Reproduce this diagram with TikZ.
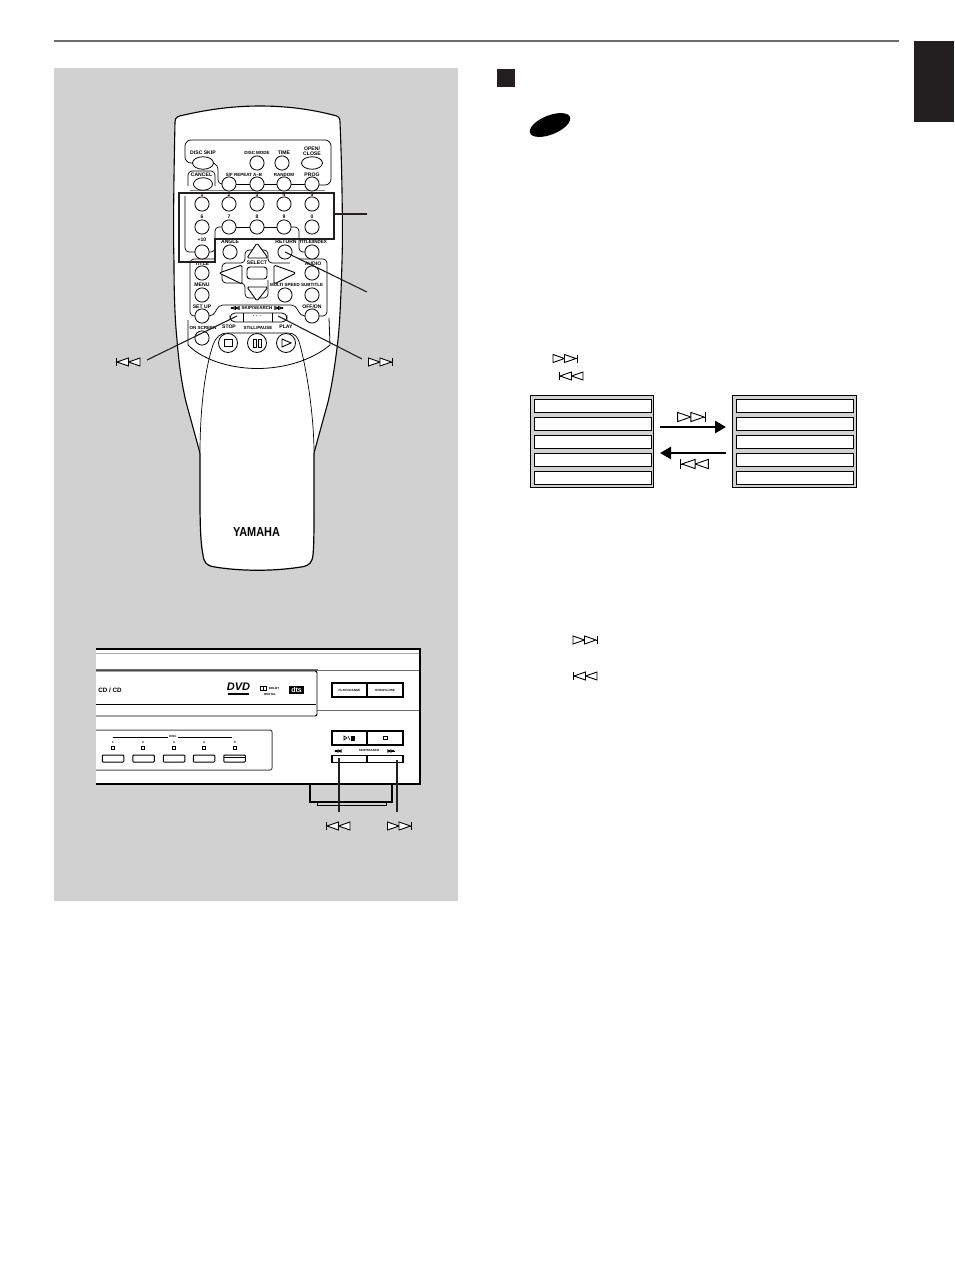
\documentclass[tikz,border=0pt]{standalone}
\usepackage{fontspec}
\setmainfont{Liberation Sans}
\usetikzlibrary{shapes.geometric,arrows.meta}
\definecolor{panelgray}{HTML}{D1D1D1}
\definecolor{inkdark}{HTML}{231F20}
\definecolor{headgray}{HTML}{6B6B6B}
\tikzset{
  x=1pt,y=-1pt,
  lbl/.style={font=\fontsize{5.1}{5.1}\selectfont\bfseries,inner sep=0pt,text=black},
  lblsm/.style={font=\fontsize{4.5}{4.5}\selectfont\bfseries,inner sep=0pt,text=black},
  tiny/.style={font=\fontsize{3}{3}\selectfont\bfseries,inner sep=0pt,text=black},
  circbtn/.style={draw=black,fill=white,circle,line width=.8pt,minimum size=14.2pt,inner sep=0pt},
  ovalbtn/.style={draw=black,fill=white,ellipse,line width=.8pt,minimum width=21pt,minimum height=12.5pt,inner sep=0pt},
  bigbtn/.style={draw=black,fill=white,circle,line width=.8pt,minimum size=19pt,inner sep=0pt},
  outl/.style={line width=.7pt,draw=black,rounded corners=4pt},
  body/.style={line width=1.1pt,draw=black,fill=white},
  leader/.style={line width=1.1pt,draw=inkdark},
  navtri/.style={line width=.9pt,fill=white,line join=round,rounded corners=1.5pt},
  rowbox/.style={draw=black,fill=white,line width=.8pt,minimum width=117pt,minimum height=13.6pt,inner sep=0pt},
  listbox/.style={draw=black,fill=panelgray,line width=.8pt,minimum width=123pt,minimum height=92.5pt,inner sep=0pt},
  bigarrow/.style={line width=2.8pt,-{Triangle[length=11pt,width=12pt]}},
  fbtn/.style={draw=black,fill=white,line width=1pt,rounded corners=.8pt,minimum height=7pt,minimum width=21.5pt,inner sep=0pt},
  led/.style={draw=black,fill=white,line width=.7pt,minimum size=3pt,inner sep=0pt},
  skipfwd/.pic={
    \draw[line width=.9pt,fill=white] (-12.5,-4)--(-1,0)--(-12.5,4)--cycle;
    \draw[line width=.9pt,fill=white] (-1,-4)--(10.5,0)--(-1,4)--cycle;
    \draw[line width=1pt] (11.5,-4)--(11.5,4) (10,0)--(11.5,0);
  },
  skipback/.pic={
    \draw[line width=.9pt,fill=white] (12.5,-4)--(1,0)--(12.5,4)--cycle;
    \draw[line width=.9pt,fill=white] (1,-4)--(-10.5,0)--(1,4)--cycle;
    \draw[line width=1pt] (-11.5,-4)--(-11.5,4) (-10,0)--(-11.5,0);
  }
}
\begin{document}
\begin{tikzpicture}
\useasboundingbox (0,0) rectangle (954,1272);
% page furniture
\fill[white] (0,0) rectangle (954,1272);
\fill[panelgray] (54,68) rectangle (458,901);
\draw[line width=1.8pt,draw=headgray] (54,41) -- (899,41);
\fill[inkdark] (914,41) rectangle (954,122);
\node[fill=inkdark,minimum size=18pt,inner sep=0pt] (sq) at (506,77.5) {};
\node[fill=black,ellipse,minimum width=43pt,minimum height=19pt,inner sep=0pt,rotate=22] (oval) at (550,125) {};

% remote body
\path[body] (175,122) .. controls (175,117) and (178,116) .. (184,115)
  .. controls (210,109) and (235,106) .. (260,106)
  .. controls (285,106) and (310,109) .. (333,115)
  .. controls (339,116) and (340,118) .. (340,122)
  .. controls (342,170) and (343,230) .. (342,262)
  .. controls (341,295) and (340,320) .. (338,340)
  .. controls (335,365) and (332,385) .. (328,402)
  -- (314,453) -- (200,453) -- (186,402)
  .. controls (182,385) and (179,365) .. (177,340)
  .. controls (175,320) and (174,295) .. (174,262)
  .. controls (173,230) and (174,170) .. (175,122) -- cycle;
% lid
\fill[white] (200,453) .. controls (200,420) and (203,375) .. (213,345)
  .. controls (216,337) and (220,333) .. (228,333) -- (288,333)
  .. controls (295,333) and (298,337) .. (300,345)
  .. controls (308,375) and (314,420) .. (314,453)
  -- (314,500) .. controls (314,530) and (314,545) .. (313,555)
  .. controls (312,563) and (309,565) .. (304,566.5)
  .. controls (275,571.5) and (240,571.5) .. (212,566.5)
  .. controls (207,565) and (204,563) .. (203,555)
  .. controls (201,545) and (200,530) .. (200,500) -- cycle;
\draw[line width=.7pt] (200,453) .. controls (200,420) and (203,375) .. (213,345)
  .. controls (216,337) and (220,333) .. (228,333) -- (288,333)
  .. controls (295,333) and (298,337) .. (300,345)
  .. controls (308,375) and (314,420) .. (314,453);
\draw[line width=1.2pt] (200,453) -- (200,500) .. controls (200,530) and (201,545) .. (203,555)
  .. controls (204,563) and (207,565) .. (212,566.5)
  .. controls (240,571.5) and (275,571.5) .. (304,566.5)
  .. controls (309,565) and (312,563) .. (313,555)
  .. controls (314,545) and (314,530) .. (314,500) -- (314,453);
\node[inner sep=0pt,font=\fontsize{13}{13}\selectfont\bfseries] (yamaha) at (256.5,532) {\scalebox{.84}[1]{YAMAHA}};

% thin panels on the remote
\draw[outl,rounded corners=6pt] (193,163) -- (185,163) -- (185,140) -- (331,140) -- (331,185) -- (312,185);
\draw[outl] (213,163) -- (218,165) -- (218,184) -- (229,184);
\draw[line width=.7pt] (229,184) -- (312,184);
\draw[outl] (188,186) -- (188,171) -- (215,171) -- (215,186);
\draw[line width=.8pt,draw=gray] (190,190) -- (325,190);
\draw[outl] (202,252) -- (185,252) -- (185,196);
\draw[outl] (202,252) -- (215,252) -- (215,227) -- (229,227);
\draw[line width=.7pt] (229,227) -- (284,227);
\draw[outl] (284,227) -- (299,227) -- (299,252) -- (312,252);
\draw[outl] (202,316) -- (190,316) -- (190,259) -- (215,259);
\draw[outl] (299,259) -- (327,259) -- (327,316) -- (312,316);
\draw[outl,rounded corners=5pt] (202,316) -- (214,316) -- (218,305) -- (296,305) -- (300,316) -- (312,316);
\draw[line width=.8pt] (188,320) -- (188,345) .. controls (205,362) and (235,368.5) .. (257,368.5) .. controls (285,368.5) and (312,360) .. (330,345) -- (329,318);

% nav cluster
\draw[outl] (268,280)--(268,298)--(245,298)--(245,283)--(222,283)--(222,263)--(245,263)--(245,250)--(268,250)--(268,263)--(290,263);
\draw[navtri] (257,243)--(268,258)--(247,258)--cycle;
\draw[navtri] (257,301)--(268,287)--(247,287)--cycle;
\draw[navtri] (219,273)--(242,265)--(242,284)--cycle;
\draw[navtri] (296,273)--(274,265)--(274,284)--cycle;
\draw[line width=.9pt,fill=white,rounded corners=3pt] (247,267) rectangle (267,279);

% buttons
\node[ovalbtn] (bDiscSkip) at (203,163) {};
\node[circbtn] (bDiscMode) at (257,163) {};
\node[circbtn] (bTime) at (282,163) {};
\node[ovalbtn] (bOpen) at (312,163) {};
\node[ovalbtn,minimum width=19pt] (bCancel) at (203,184) {};
\node[circbtn] (bSF) at (229,184) {};
\node[circbtn] (bAB) at (257,184) {};
\node[circbtn] (bRandom) at (284,184) {};
\node[circbtn] (bProg) at (312,184) {};
\node[circbtn] (n1) at (202,204) {};
\node[circbtn] (n2) at (229,204) {};
\node[circbtn] (n3) at (257,204) {};
\node[circbtn] (n4) at (284,204) {};
\node[circbtn] (n5) at (312,204) {};
\node[circbtn] (n6) at (202,227) {};
\node[circbtn] (n7) at (229,227) {};
\node[circbtn] (n8) at (257,227) {};
\node[circbtn] (n9) at (284,227) {};
\node[circbtn] (n0) at (312,227) {};
\node[circbtn] (bTen) at (202,252) {};
\node[circbtn] (bAngle) at (230,252) {};
\node[circbtn] (bReturn) at (285,252) {};
\node[circbtn] (bTitleIdx) at (312,252) {};
\node[circbtn] (bTitle) at (202,273) {};
\node[circbtn] (bAudio) at (312,273) {};
\node[circbtn] (bMenu) at (202,295) {};
\node[circbtn] (bMulti) at (285,295) {};
\node[circbtn] (bSub) at (312,295) {};
\node[circbtn] (bSetup) at (202,316) {};
\node[circbtn] (bOff) at (312,316) {};
\node[circbtn] (bOnScr) at (202,338) {};
\node[bigbtn] (bStop) at (228,343) {};
\node[bigbtn] (bStill) at (257,343) {};
\node[bigbtn] (bPlay) at (286,343) {};
\draw[line width=.9pt,fill=white] (224,339.5) rectangle (232,346.5);
\draw[line width=.9pt,fill=white] (253.5,339) rectangle (256.5,347) (258,339) rectangle (261,347);
\draw[line width=.9pt,fill=white] (282,339)--(291,343)--(282,347)--cycle;
% skip bar
\draw[line width=.8pt,fill=white,rounded corners=5pt] (230,313) rectangle (287,322);
\draw[line width=.8pt] (243,313)--(243,322) (272,313)--(272,322);
\node[lbl] (dots) at (257,316) {. . .};

% remote labels
\node[lbl] (tDiscSkip) at (203,152.5) {DISC SKIP};
\node[lblsm] (tDiscMode) at (257,153) {DISC MODE};
\node[lbl] (tTime) at (284,153) {TIME};
\node[lbl,align=center] (tOpen) at (312,151.5) {OPEN/\\CLOSE};
\node[lbl] (tCancel) at (201.5,174.5) {CANCEL};
\node[lblsm] (tSF) at (244,174.5) {S/F REPEAT A--B};
\node[lblsm] (tRandom) at (284,174.5) {RANDOM};
\node[lbl] (tProg) at (312,174.5) {PROG};
\foreach \t/\x/\y in {1/202/194.5,2/229/194.5,3/257/194.5,4/284/194.5,5/312/194.5,6/202/217,7/229/217,8/257/217,9/284/217,0/312/217}
  \node[lbl] (tn\t) at (\x,\y) {\t};
\node[lbl] (tTen) at (202,240) {+10};
\node[lbl] (tAngle) at (230,242) {ANGLE};
\node[lbl] (tReturn) at (286,242) {RETURN};
\node[lblsm] (tTI) at (313,242) {TITLE/INDEX};
\node[lbl] (tTitle) at (202,264) {TITLE};
\node[lbl] (tSelect) at (257,263) {SELECT};
\node[lbl] (tAudio) at (313,264) {AUDIO};
\node[lbl] (tMenu) at (202,284.5) {MENU};
\node[lblsm] (tMulti) at (285,285) {MULTI SPEED};
\node[lblsm] (tSub) at (312,285) {SUBTITLE};
\node[lbl] (tSetup) at (202,307) {SET UP};
\node[lbl] (tOff) at (312,307) {OFF/ON};
\node[lblsm] (tOnScr) at (203,328) {ON SCREEN};
\node[lblsm] (tSkip) at (257,308) {SKIP/SEARCH};
\pic[scale=.33] (sBackSm) at (235,308) {skipback};
\pic[scale=.33] (sFwdSm) at (279,308) {skipfwd};
\node[lbl] (tStop) at (229,327) {STOP};
\node[lblsm] (tStill) at (258,327.5) {STILL/PAUSE};
\node[lbl] (tPlay) at (286,327) {PLAY};

% highlight frame and leaders
\draw[line width=1.1pt,draw=inkdark] (179,193)--(334,193)--(334,239)--(215,239)--(215,262)--(179,262)--cycle;
\coordinate (frameR) at (334,214);
\coordinate (frameEnd) at (367,214);
\draw[leader] (frameR) -- (frameEnd);
\coordinate (retEnd) at (367,292);
\draw[leader] (bReturn.center) -- (retEnd);
\coordinate (skL) at (237,316);
\coordinate (skLEnd) at (147,360);
\coordinate (skR) at (278,316);
\coordinate (skREnd) at (362,359);
\draw[leader] (skL) -- (skLEnd);
\draw[leader] (skR) -- (skREnd);
\pic (symL) at (127.5,362) {skipback};
\pic (symR) at (381,362) {skipfwd};

% player
\fill[white] (96,649) rectangle (420,784);
\draw[line width=1.6pt] (96,649) -- (420,649) -- (420,784) -- (96,784);
\draw[line width=.8pt,draw=gray!70] (96,653) -- (419,653);
\draw[line width=2.2pt,draw=gray!85!black] (96,670) -- (318,670);
\draw[line width=.9pt,draw=gray!85!black] (318,670) -- (419,670);
\draw[line width=.9pt,draw=gray!85!black] (317,710) -- (419,710);
\draw[line width=.9pt,rounded corners=2pt] (96,671) -- (317,671) -- (317,716) -- (96,716);
\draw[line width=.8pt] (96,704) -- (316,704);
\node[lbl,font=\fontsize{6.3}{6.3}\selectfont\bfseries] (tCD) at (110,690) {CD / CD};
\node[inner sep=0pt,font=\fontsize{11}{11}\selectfont\bfseries\itshape] (tDVD) at (238.5,687) {DVD};
\fill[black] (228,692.5) rectangle (249,695);
\draw[line width=.8pt] (260,686) rectangle (263,690) (263.5,686) rectangle (266.5,690);
\node[tiny] (tDolbyA) at (274,688) {DOLBY};
\node[tiny] (tDolbyB) at (270,694) {DIGITAL};
\node[fill=black,inner sep=0pt,minimum width=15pt,minimum height=8pt,text=white,font=\fontsize{7}{7}\selectfont\bfseries] (tDts) at (296.5,689.5) {dts};
% top right buttons
\node[draw=black,fill=white,line width=1.1pt,minimum width=35pt,minimum height=14pt,inner sep=0pt,tiny] (pChange) at (349.5,690) {PLAY/CHANGE};
\node[draw=black,fill=white,line width=1.1pt,minimum width=36pt,minimum height=14pt,inner sep=0pt,tiny] (pOpen) at (385,690) {OPEN/CLOSE};
% disc panel
\draw[line width=1pt,rounded corners=2pt,draw=gray!60!black] (96,730) -- (272,730) -- (272,770) -- (96,770);
\coordinate (discA) at (113,737);
\coordinate (discB) at (232,737);
\draw[line width=.5pt] (discA) -- (discB);
\node[tiny,fill=white,inner xsep=1pt] (tDisc) at (173,736.5) {DISC};
\foreach \i/\x/\xb in {1/113/113,2/143/143.5,3/174/174,4/204/204,5/235/234.5}{
  \node[tiny] (dn\i) at (\x,742) {\i};
  \node[led] (dl\i) at (\x,747.5) {};
  \node[fbtn] (db\i) at (\xb,758.5) {};
}
\draw[line width=.5pt] (224,757.5) -- (245,757.5);
% play stop
\node[draw=black,fill=white,line width=1.1pt,minimum width=35pt,minimum height=14pt,inner sep=0pt,tiny] (pPlay) at (349.5,738) {};
\node[draw=black,fill=white,line width=1.4pt,minimum width=36pt,minimum height=14pt,inner sep=0pt] (pStop) at (385,738) {};
\draw[line width=.7pt] (383,736.5) rectangle (387,739.5);
\draw[line width=.6pt,fill=white] (344,736)--(347,738)--(344,740)--cycle;
\draw[line width=.5pt] (348,736)--(350,740);
\draw[line width=.7pt] (351.5,736) rectangle (352.8,740) (353.5,736) rectangle (354.8,740);
\node[tiny] (tSkipP) at (369,750.5) {SKIP/SEARCH};
\pic[scale=.26] (pbackS) at (338,751) {skipback};
\pic[scale=.26] (pfwdS) at (391,751) {skipfwd};
\node[draw=black,fill=white,line width=1.1pt,minimum width=35pt,minimum height=7.5pt,inner sep=0pt] (pBack) at (349.5,759) {};
\node[draw=black,fill=white,line width=1.1pt,minimum width=36pt,minimum height=7.5pt,inner sep=0pt] (pFwd) at (385,759) {};
% feet
\draw[line width=1.2pt] (310,784) -- (310,802) -- (392,802) -- (392,784);
\draw[line width=1pt] (317,802) -- (317,805) -- (386,805) -- (386,802);
% player leaders
\coordinate (pbEnd) at (339,812);
\coordinate (pfEnd) at (397,812);
\coordinate (pbStart) at (339,758);
\coordinate (pfStart) at (397,760);
\draw[leader,line width=1.3pt] (pbStart) -- (pbEnd);
\draw[leader,line width=1.3pt] (pfStart) -- (pfEnd);
\pic (symPL) at (337.5,826) {skipback};
\pic (symPR) at (400,826) {skipfwd};

% right column
\pic (sym1) at (565.5,358.5) {skipfwd};
\pic (sym2) at (570.5,376) {skipback};
\node[listbox] (listL) at (591.5,441.5) {};
\node[listbox,minimum width=124pt] (listR) at (794,441.5) {};
\foreach \i/\y in {1/406,2/424,3/442,4/460,5/478}{
  \node[rowbox] (la\i) at (592.5,\y) {};
  \node[rowbox] (ra\i) at (794.5,\y) {};
}
\coordinate (arA) at (660,427);
\coordinate (arB) at (726,427);
\coordinate (arC) at (726,453);
\coordinate (arD) at (660,453);
\draw[bigarrow] (arA) -- (arB);
\draw[bigarrow] (arC) -- (arD);
\pic[scale=1.15] (sym3) at (692,417) {skipfwd};
\pic[scale=1.15] (sym4) at (694,464) {skipback};
\pic (sym5) at (585.5,640) {skipfwd};
\pic (sym6) at (584.5,676) {skipback};
\end{tikzpicture}
\end{document}
